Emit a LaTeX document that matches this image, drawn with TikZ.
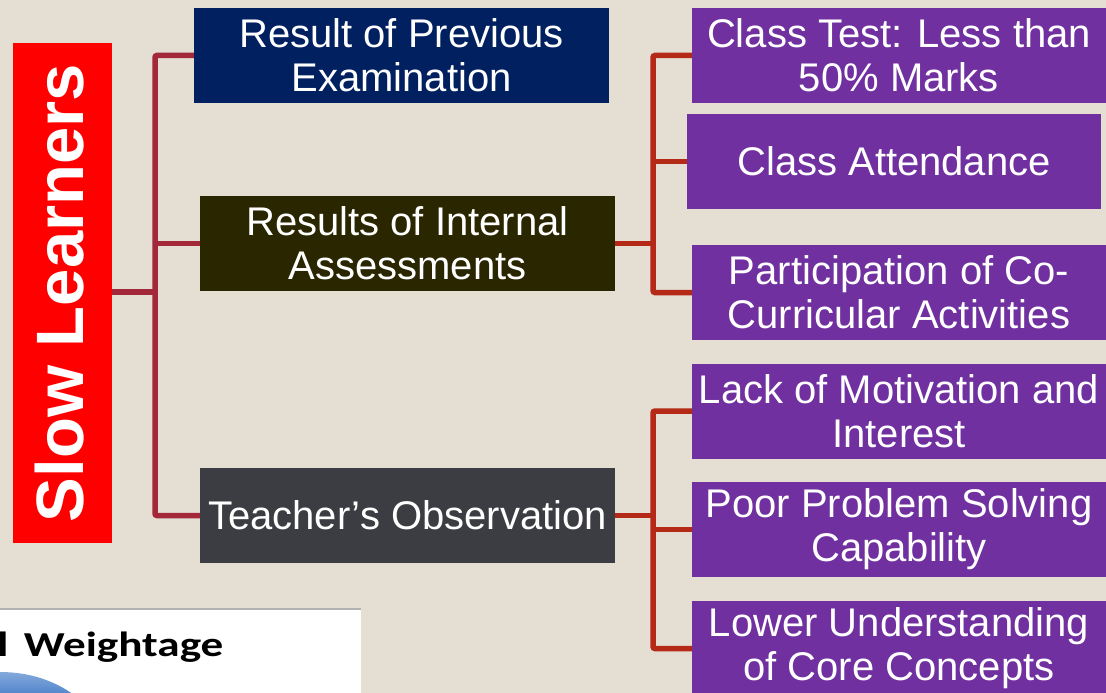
\documentclass[tikz,border=0pt]{standalone}
\usepackage{fontspec}
\setmainfont{Liberation Sans}
\newfontfamily\calfont{Carlito}
\definecolor{bg}{HTML}{E4DED3}
\definecolor{navy}{HTML}{002060}
\definecolor{olive}{HTML}{2A2700}
\definecolor{slate}{HTML}{3C3D42}
\definecolor{purp}{HTML}{7030A0}
\definecolor{lline}{HTML}{A2283A}
\definecolor{rline}{HTML}{B42A17}
\definecolor{blueblob}{HTML}{4F84CC}
\tikzset{
  tbox/.style={rectangle, inner sep=0pt, minimum width=415pt, minimum height=95pt,
    text=white, align=center, font=\fontsize{40}{44}\selectfont},
  pbox/.style={tbox, fill=purp, minimum width=414pt},
  lconn/.style={draw=lline, line width=5.5pt, rounded corners=2pt},
  rconn/.style={draw=rline, line width=5.5pt, rounded corners=2pt},
}
\begin{document}
\begin{tikzpicture}[x=1pt,y=-1pt]
\useasboundingbox (0,0) rectangle (1106,693);
\clip (0,0) rectangle (1106,693);
\fill[bg] (0,0) rectangle (1106,693);
% bottom-left fragment
\fill[white] (0,609) rectangle (361,700);
\draw[gray!60, line width=1.5pt] (0,609) -- (361,609);
\shade[top color=blueblob!70!white, bottom color=blueblob] (0,672) .. controls (30,672) and (55,681) .. (74,695) -- (0,695) -- cycle;
\node[anchor=base west, inner sep=0pt, xscale=1.29, transform shape, font=\calfont\bfseries\fontsize{35}{40}\selectfont] (wt) at (-3,656) {l\hspace{12pt}Weightage};
% root
\node[rectangle, fill=red, inner sep=0pt, minimum width=99pt, minimum height=500pt] (sl) at (62.5,293) {};
\node[rotate=90, text=white, inner sep=0pt, font=\bfseries\fontsize{67}{70}\selectfont] (slt) at (60,293) {Slow Learners};
% level 1
\node[tbox, fill=navy] (b1) at (401.5,55.5) {Result of Previous\\Examination};
\node[tbox, fill=olive] (b2) at (407.5,243.5) {Results of Internal\\Assessments};
\node[tbox, fill=slate] (b3) at (407.5,515.5) {Teacher’s Observation};
% level 2
\node[pbox] (p1) at (899,55.5) {Class Test: Less than\\50\% Marks};
\node[pbox] (p2) at (894,161.5) {Class Attendance};
\node[pbox] (p3) at (899,292.5) {Participation of Co-\\Curricular Activities};
\node[pbox] (p4) at (899,411) {Lack of Motivation and\\Interest};
\node[pbox] (p5) at (899,529.5) {Poor Problem Solving\\Capability};
\node[pbox] (p6) at (899,648.5) {Lower Understanding\\of Core Concepts};
% junctions
\coordinate (jl) at (155,292);
\coordinate (jr1) at (653,243.5);
\coordinate (jr2) at (653,515.5);
% connectors
\draw[lconn] (sl.east |- jl) -- (jl);
\draw[lconn] (b1.west) -| (jl) |- (b3.west);
\draw[lconn] (jl |- b2.west) -- (b2.west);
\draw[rconn] (b2.east) -- (jr1);
\draw[rconn] (p1.west) -| (jr1) |- (p3.west);
\draw[rconn] (jr1 |- p2.west) -- (p2.west);
\draw[rconn] (b3.east) -- (jr2);
\draw[rconn] (p4.west) -| (jr2) |- (p6.west);
\draw[rconn] (jr2 |- p5.west) -- (p5.west);
\end{tikzpicture}
\end{document}
